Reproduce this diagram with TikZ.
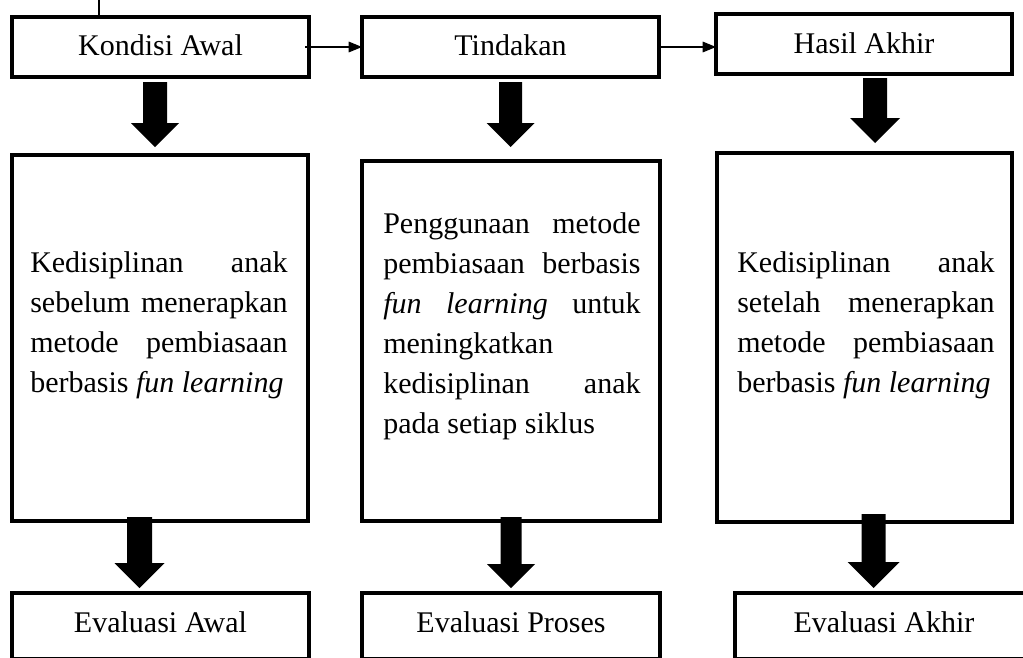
\documentclass[tikz,border=0pt]{standalone}
\usepackage{fontspec}
\setmainfont{Liberation Serif}
\usetikzlibrary{arrows.meta,fit}
\newcommand\blockarr[6]{%
  \fill (#1-#5,#2) -- (#1+#5,#2) -- (#1+#5,#3) -- (#1+#6,#3) -- (#1,#4) -- (#1-#6,#3) -- (#1-#5,#3) -- cycle;}
\newcommand\parasetup{\fontsize{22.5}{30}\selectfont\hyphenpenalty=10000\relax\tolerance=10000\relax\hbadness=10000\relax}
\begin{document}
\begin{tikzpicture}[x=0.75pt,y=-0.75pt,
  box/.style={draw, line width=2.4pt, inner sep=0pt, outer sep=0pt},
  lbl/.style={font=\fontsize{22.5}{30}\selectfont, inner sep=0pt},
  para/.style={anchor=base west, inner sep=0pt, text width=193pt, align=justify,
    font=\parasetup},
  thinline/.style={line width=0.8pt},
  flow/.style={thinline, -{Triangle[length=10pt,width=8pt]}}]
\useasboundingbox (0,0) rectangle (1023,657);
\clip (0,0) rectangle (1023,657);
\fill[white] (0,0) rectangle (1023,657);

% top row
\node[box, fit={(12,17) (309,77)}] (K) {};
\node[box, fit={(362,17) (659,77)}] (T) {};
\node[box, fit={(716,14) (1012,74)}] (H) {};
\node[lbl, anchor=base] (Kt) at (160.5,55) {Kondisi Awal};
\node[lbl, anchor=base] (Tt) at (510.5,55) {Tindakan};
\node[lbl, anchor=base] (Ht) at (864,53) {Hasil Akhir};

% middle boxes
\node[box, fit={(12,155) (308,521)}] (KD) {};
\node[box, fit={(362,161) (660,521)}] (TD) {};
\node[box, fit={(717,153) (1012,522)}] (HD) {};

\node[para] (KDt) at (30,272) {Kedisiplinan anak\linebreak sebelum menerapkan\linebreak metode pembiasaan\linebreak berbasis \textit{fun learning}};
\node[para] (TDt) at (383,233) {Penggunaan metode\linebreak pembiasaan berbasis\linebreak \textit{fun learning} untuk\linebreak meningkatkan\newline kedisiplinan anak\linebreak pada setiap siklus};
\node[para] (HDt) at (737,272) {Kedisiplinan anak\linebreak setelah menerapkan\linebreak metode pembiasaan\linebreak berbasis \textit{fun learning}};

% bottom boxes
\node[box, fit={(12,593) (309,659)}] (E1) {};
\node[box, fit={(362,593) (660,659)}] (E2) {};
\node[box, fit={(735,593) (1033,659)}] (E3) {};
\node[lbl, anchor=base] (E1t) at (160.5,632) {Evaluasi Awal};
\node[lbl, anchor=base] (E2t) at (511,632) {Evaluasi Proses};
\node[lbl, anchor=base] (E3t) at (884,632) {Evaluasi Akhir};

% thin connectors
\coordinate (tick) at (99,0);
\draw[thinline] (tick) -- (tick |- K.north);
\coordinate (k1) at (305,47);
\draw[flow] (k1) -- (T.west |- k1);
\draw[flow] (T.east |- k1) -- (H.west |- k1);

% block arrows
\blockarr{155}{82}{123}{147}{12}{24}
\blockarr{510.5}{82}{123}{147}{11.5}{24}
\blockarr{875}{78}{118}{143}{12}{25}
\blockarr{139.5}{517}{563}{588}{12.5}{25}
\blockarr{511}{517}{564}{588}{10.5}{24}
\blockarr{873.5}{514}{562}{588}{12}{26}
\end{tikzpicture}
\end{document}
